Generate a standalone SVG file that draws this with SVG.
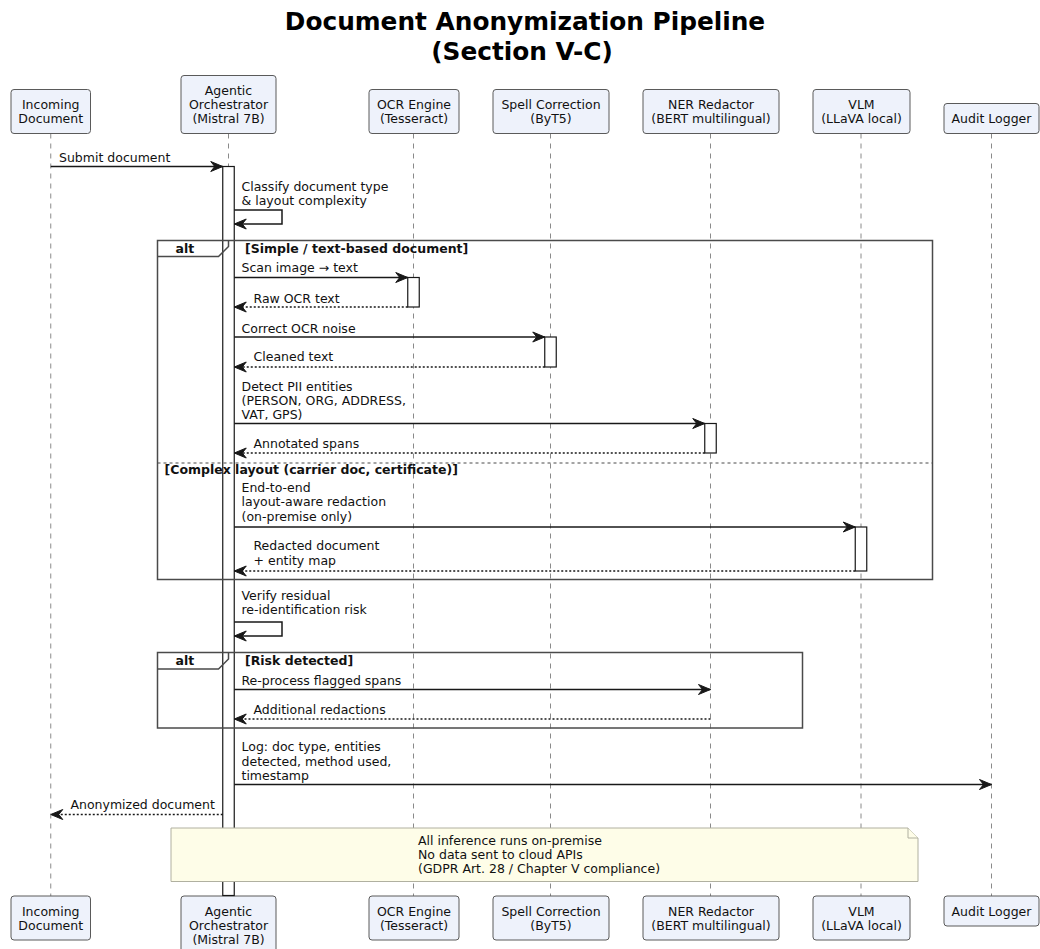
<svg xmlns="http://www.w3.org/2000/svg" width="1040" height="949" viewBox="0 0 1040 949">
<style>
  text { font-family: "DejaVu Sans", "Noto Sans", sans-serif; font-size: 12.5px; fill: #111; }
  .title { font-size: 24.8px; font-weight: bold; fill: #000; }
  .pbox { fill: #EEF2FB; stroke: #5a5a5a; stroke-width: 1; }
  .pt { text-anchor: middle; }
  .life { stroke: #8a8a8a; stroke-width: 1; stroke-dasharray: 5,5; fill: none; }
  .act { fill: #fff; stroke: #181818; stroke-width: 1.2; }
  .msg { stroke: #181818; stroke-width: 1.5; fill: none; marker-end: url(#ah); }
  .ret { stroke: #181818; stroke-width: 1.5; fill: none; stroke-dasharray: 2,2; marker-end: url(#ah); }
  .frame { fill: none; stroke: #4a4a4a; stroke-width: 1.5; }
  .div { stroke: #4a4a4a; stroke-width: 1; stroke-dasharray: 3,3; fill: none; }
  .b { font-weight: bold; }
  .note { fill: #FEFDE8; stroke: #B0B0A0; stroke-width: 1; }
</style>
<defs>
  <marker id="ah" markerUnits="userSpaceOnUse" viewBox="-13 -6 14 12" refX="0" refY="0" markerWidth="14" markerHeight="12" orient="auto">
    <path d="M0,0 L-12,-5 L-8,0 L-12,5 Z" fill="#181818" stroke="#181818" stroke-width="1" stroke-dasharray="none"/>
  </marker>
</defs>
<rect x="0" y="0" width="1040" height="949" fill="#fff"/>
<g id="title">
  <text class="title" x="525" y="30" text-anchor="middle">Document Anonymization Pipeline</text>
  <text class="title" x="522" y="59.5" text-anchor="middle">(Section V-C)</text>
</g>
<g id="lifelines">
  <line class="life" x1="50.75" y1="133.5" x2="50.75" y2="896"/>
  <line class="life" x1="228.5" y1="133.5" x2="228.5" y2="896"/>
  <line class="life" x1="413.5" y1="133.5" x2="413.5" y2="896"/>
  <line class="life" x1="550.5" y1="133.5" x2="550.5" y2="896"/>
  <line class="life" x1="710.5" y1="133.5" x2="710.5" y2="896"/>
  <line class="life" x1="861" y1="133.5" x2="861" y2="896"/>
  <line class="life" x1="991.5" y1="133.5" x2="991.5" y2="896"/>
</g>
<g id="p-incoming">
  <rect class="pbox" x="11" y="89.5" width="79.5" height="44" rx="3"/>
  <text class="pt" x="50.75" y="109">Incoming</text>
  <text class="pt" x="50.75" y="123">Document</text>
  <rect class="pbox" x="11" y="896" width="79.5" height="44" rx="3"/>
  <text class="pt" x="50.75" y="915.5">Incoming</text>
  <text class="pt" x="50.75" y="929.5">Document</text>
</g>
<g id="p-orchestrator">
  <rect class="pbox" x="181" y="75.5" width="95" height="58" rx="3"/>
  <text class="pt" x="228.5" y="95">Agentic</text>
  <text class="pt" x="228.5" y="109">Orchestrator</text>
  <text class="pt" x="228.5" y="123">(Mistral 7B)</text>
  <rect class="pbox" x="181" y="896" width="95" height="58" rx="3"/>
  <text class="pt" x="228.5" y="915.5">Agentic</text>
  <text class="pt" x="228.5" y="929.5">Orchestrator</text>
  <text class="pt" x="228.5" y="943.5">(Mistral 7B)</text>
</g>
<g id="p-ocr">
  <rect class="pbox" x="369" y="89.5" width="90" height="44" rx="3"/>
  <text class="pt" x="414" y="109">OCR Engine</text>
  <text class="pt" x="414" y="123">(Tesseract)</text>
  <rect class="pbox" x="369" y="896" width="90" height="44" rx="3"/>
  <text class="pt" x="414" y="915.5">OCR Engine</text>
  <text class="pt" x="414" y="929.5">(Tesseract)</text>
</g>
<g id="p-spell">
  <rect class="pbox" x="493" y="89.5" width="116" height="44" rx="3"/>
  <text class="pt" x="551" y="109">Spell Correction</text>
  <text class="pt" x="551" y="123">(ByT5)</text>
  <rect class="pbox" x="493" y="896" width="116" height="44" rx="3"/>
  <text class="pt" x="551" y="915.5">Spell Correction</text>
  <text class="pt" x="551" y="929.5">(ByT5)</text>
</g>
<g id="p-ner">
  <rect class="pbox" x="643" y="89.5" width="136" height="44" rx="3"/>
  <text class="pt" x="711" y="109">NER Redactor</text>
  <text class="pt" x="711" y="123">(BERT multilingual)</text>
  <rect class="pbox" x="643" y="896" width="136" height="44" rx="3"/>
  <text class="pt" x="711" y="915.5">NER Redactor</text>
  <text class="pt" x="711" y="929.5">(BERT multilingual)</text>
</g>
<g id="p-vlm">
  <rect class="pbox" x="813" y="89.5" width="97" height="44" rx="3"/>
  <text class="pt" x="861.5" y="109">VLM</text>
  <text class="pt" x="861.5" y="123">(LLaVA local)</text>
  <rect class="pbox" x="813" y="896" width="97" height="44" rx="3"/>
  <text class="pt" x="861.5" y="915.5">VLM</text>
  <text class="pt" x="861.5" y="929.5">(LLaVA local)</text>
</g>
<g id="p-audit">
  <rect class="pbox" x="944" y="103.5" width="95" height="30" rx="3"/>
  <text class="pt" x="991.5" y="123">Audit Logger</text>
  <rect class="pbox" x="944" y="896" width="95" height="30" rx="3"/>
  <text class="pt" x="991.5" y="915.5">Audit Logger</text>
</g>
<g id="activations">
  <rect class="act" x="222.75" y="166.5" width="11.5" height="729"/>
  <rect class="act" x="407.75" y="277.5" width="11.5" height="29.5"/>
  <rect class="act" x="544.75" y="337" width="11.5" height="30"/>
  <rect class="act" x="704.75" y="423.5" width="11.5" height="29.5"/>
  <rect class="act" x="855.25" y="527" width="11.5" height="44"/>
</g>
<g id="frames">
  <g id="alt1">
    <rect class="frame" x="157.5" y="240.5" width="775" height="339"/>
    <path class="frame" d="M157.5,256.5 H218.5 L228.5,246.5 V240.5"/>
    <text class="b" x="175.5" y="252.5">alt</text>
    <text class="b" x="245" y="252.5">[Simple / text-based document]</text>
    <line class="div" x1="157.5" y1="463" x2="932.5" y2="463"/>
    <text class="b" x="164.5" y="473.5">[Complex layout (carrier doc, certificate)]</text>
  </g>
  <g id="alt2">
    <rect class="frame" x="157.5" y="652.5" width="645" height="75.5"/>
    <path class="frame" d="M157.5,669 H218.5 L228.5,659 V652.5"/>
    <text class="b" x="175.5" y="665">alt</text>
    <text class="b" x="245" y="665">[Risk detected]</text>
  </g>
</g>
<g id="connectors">
  <line class="msg" x1="50.75" y1="166.5" x2="222.75" y2="166.5"/>
  <text x="59" y="161.5">Submit document</text>

  <path class="msg" d="M234.25,210 H282 V224 H234.25"/>
  <text x="241.5" y="190.5">Classify document type</text>
  <text x="241.5" y="204.5">&amp; layout complexity</text>

  <line class="msg" x1="234.25" y1="277.5" x2="407.75" y2="277.5"/>
  <text x="241.5" y="272">Scan image → text</text>

  <line class="ret" x1="407.75" y1="307" x2="234.25" y2="307"/>
  <text x="253.5" y="302.5">Raw OCR text</text>

  <line class="msg" x1="234.25" y1="337" x2="544.75" y2="337"/>
  <text x="241.5" y="332.5">Correct OCR noise</text>

  <line class="ret" x1="544.75" y1="367" x2="234.25" y2="367"/>
  <text x="253.5" y="361">Cleaned text</text>

  <line class="msg" x1="234.25" y1="423.5" x2="704.75" y2="423.5"/>
  <text x="241.5" y="391">Detect PII entities</text>
  <text x="241.5" y="405">(PERSON, ORG, ADDRESS,</text>
  <text x="241.5" y="419">VAT, GPS)</text>

  <line class="ret" x1="704.75" y1="453" x2="234.25" y2="453"/>
  <text x="253.5" y="448">Annotated spans</text>

  <line class="msg" x1="234.25" y1="527" x2="855.25" y2="527"/>
  <text x="241.5" y="491.5">End-to-end</text>
  <text x="241.5" y="506">layout-aware redaction</text>
  <text x="241.5" y="520.5">(on-premise only)</text>

  <line class="ret" x1="855.25" y1="571" x2="234.25" y2="571"/>
  <text x="253.5" y="550">Redacted document</text>
  <text x="253.5" y="564.5">+ entity map</text>

  <path class="msg" d="M234.25,622 H282 V636 H234.25"/>
  <text x="241.5" y="600">Verify residual</text>
  <text x="241.5" y="614">re-identification risk</text>

  <line class="msg" x1="234.25" y1="689.5" x2="710.5" y2="689.5"/>
  <text x="241.5" y="685">Re-process flagged spans</text>

  <line class="ret" x1="710.5" y1="719" x2="234.25" y2="719"/>
  <text x="253.5" y="714">Additional redactions</text>

  <line class="msg" x1="234.25" y1="784.5" x2="991.5" y2="784.5"/>
  <text x="241.5" y="751">Log: doc type, entities</text>
  <text x="241.5" y="765.5">detected, method used,</text>
  <text x="241.5" y="780">timestamp</text>

  <line class="ret" x1="222.75" y1="814.5" x2="50.75" y2="814.5"/>
  <text x="70.5" y="808.5">Anonymized document</text>
</g>
<g id="note">
  <path class="note" d="M171,828 H908 L918,838 V881.5 H171 Z"/>
  <path class="note" d="M908,828 V838 H918" fill="none"/>
  <text x="418" y="845">All inference runs on-premise</text>
  <text x="418" y="859">No data sent to cloud APIs</text>
  <text x="418" y="873">(GDPR Art. 28 / Chapter V compliance)</text>
</g>
</svg>
